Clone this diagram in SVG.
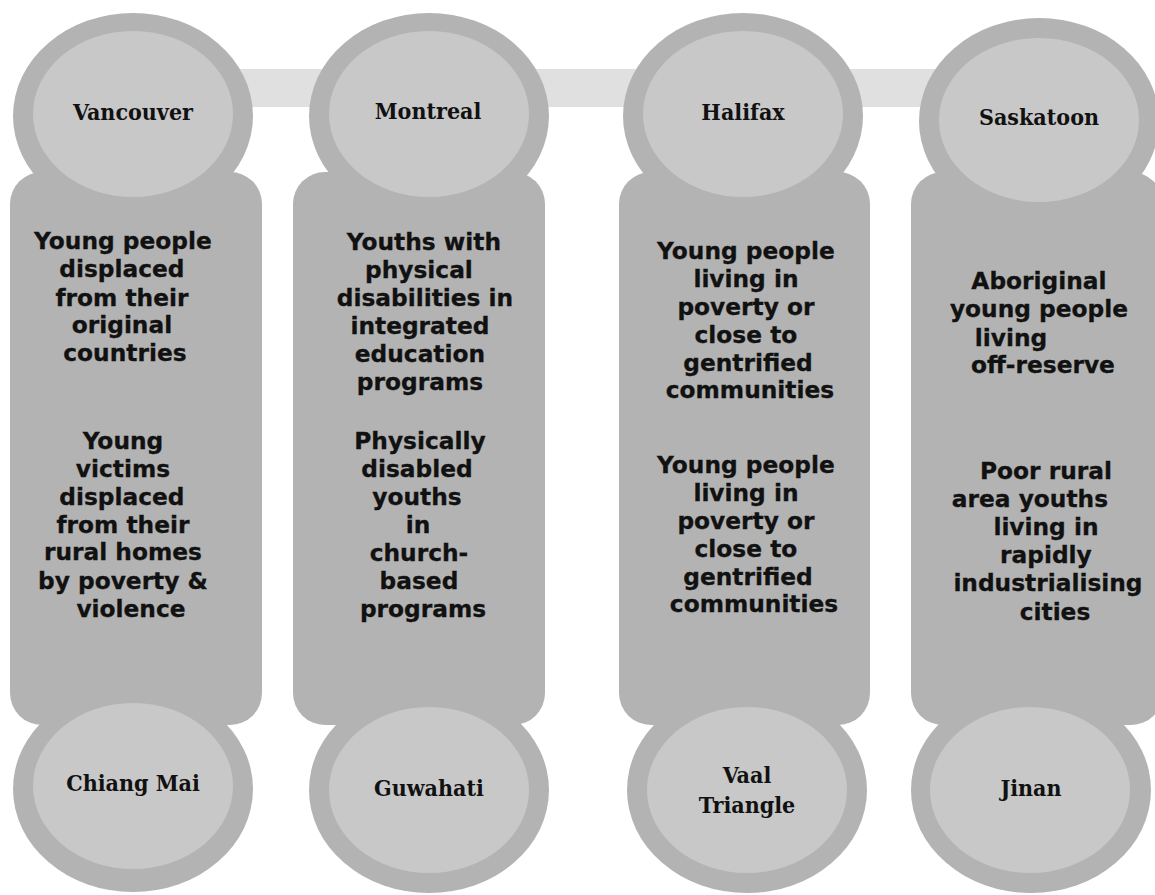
<svg xmlns="http://www.w3.org/2000/svg" width="1155" height="895" viewBox="0 0 1155 895">
  <style>
    .band { fill: #e0e0e0; }
    .ring { fill: #b3b3b3; }
    .body { fill: #b3b3b3; }
    .face { fill: #c8c8c8; }
    .city { font-family: "DejaVu Serif Condensed", "DejaVu Serif", serif; font-stretch: condensed; font-weight: bold; font-size: 23px; fill: #111; text-anchor: middle; }
    .desc { font-family: "DejaVu Sans", Verdana, sans-serif; font-weight: bold; font-size: 23.3px; fill: #111; stroke: #111; stroke-width: 0.3px; text-anchor: middle; }
  </style>
  <rect width="1155" height="895" fill="#ffffff"/>

  <!-- horizontal band linking the top circles -->
  <g id="connectors">
    <rect class="band" x="200" y="69" width="800" height="38"/>
  </g>

  <!-- column 1 -->
  <g id="col-vancouver">
    <ellipse class="ring" cx="133" cy="116" rx="120" ry="103"/>
    <ellipse class="ring" cx="133" cy="789" rx="120" ry="103"/>
    <rect class="body" x="10" y="172" width="252" height="553" rx="32"/>
    <ellipse class="face" cx="133" cy="114" rx="100" ry="83"/>
    <ellipse class="face" cx="133" cy="786" rx="100" ry="83"/>
    <text class="city" x="133" y="120">Vancouver</text>
    <text class="city" x="133" y="791">Chiang Mai</text>
    <text class="desc">
      <tspan x="127" y="249">Young people</tspan>
      <tspan x="126" y="277">displaced</tspan>
      <tspan x="126" y="306">from their</tspan>
      <tspan x="126" y="333">original</tspan>
      <tspan x="129" y="361">countries</tspan>
      <tspan x="127" y="449">Young</tspan>
      <tspan x="127" y="477">victims</tspan>
      <tspan x="126" y="505">displaced</tspan>
      <tspan x="127" y="533">from their</tspan>
      <tspan x="127" y="560">rural homes</tspan>
      <tspan x="127" y="589">by poverty &amp;</tspan>
      <tspan x="131" y="617">violence</tspan>
    </text>
  </g>

  <!-- column 2 -->
  <g id="col-montreal">
    <ellipse class="ring" cx="429" cy="116" rx="120" ry="103"/>
    <ellipse class="ring" cx="429" cy="790" rx="120" ry="103"/>
    <rect class="body" x="293" y="172" width="252" height="553" rx="32"/>
    <ellipse class="face" cx="429" cy="114" rx="100" ry="83"/>
    <ellipse class="face" cx="429" cy="790" rx="100" ry="83"/>
    <text class="city" x="428" y="119">Montreal</text>
    <text class="city" x="429" y="796">Guwahati</text>
    <text class="desc">
      <tspan x="428" y="250">Youths with</tspan>
      <tspan x="423" y="278">physical</tspan>
      <tspan x="429" y="306">disabilities in</tspan>
      <tspan x="424" y="334">integrated</tspan>
      <tspan x="424" y="362">education</tspan>
      <tspan x="424" y="390">programs</tspan>
      <tspan x="424" y="449">Physically</tspan>
      <tspan x="421" y="477">disabled</tspan>
      <tspan x="421" y="505">youths</tspan>
      <tspan x="422" y="533">in</tspan>
      <tspan x="423" y="561">church-</tspan>
      <tspan x="423" y="589">based</tspan>
      <tspan x="423" y="617">programs</tspan>
    </text>
  </g>

  <!-- column 3 -->
  <g id="col-halifax">
    <ellipse class="ring" cx="743" cy="116" rx="120" ry="103"/>
    <ellipse class="ring" cx="747" cy="790" rx="120" ry="103"/>
    <rect class="body" x="619" y="172" width="251" height="553" rx="32"/>
    <ellipse class="face" cx="743" cy="114" rx="100" ry="83"/>
    <ellipse class="face" cx="747" cy="790" rx="100" ry="83"/>
    <text class="city" x="743" y="120">Halifax</text>
    <text class="city" x="747" y="783">Vaal</text>
    <text class="city" x="747" y="813">Triangle</text>
    <text class="desc">
      <tspan x="750" y="259">Young people</tspan>
      <tspan x="750" y="287">living in</tspan>
      <tspan x="750" y="315">poverty or</tspan>
      <tspan x="750" y="343">close to</tspan>
      <tspan x="752" y="371">gentrified</tspan>
      <tspan x="754" y="398">communities</tspan>
      <tspan x="750" y="473">Young people</tspan>
      <tspan x="750" y="501">living in</tspan>
      <tspan x="750" y="529">poverty or</tspan>
      <tspan x="750" y="557">close to</tspan>
      <tspan x="752" y="585">gentrified</tspan>
      <tspan x="754" y="612">communities</tspan>
    </text>
  </g>

  <!-- column 4 -->
  <g id="col-saskatoon">
    <ellipse class="ring" cx="1039" cy="121" rx="120" ry="103"/>
    <ellipse class="ring" cx="1031" cy="790" rx="120" ry="103"/>
    <rect class="body" x="911" y="172" width="252" height="553" rx="32"/>
    <ellipse class="face" cx="1039" cy="120" rx="100" ry="82"/>
    <ellipse class="face" cx="1030" cy="790" rx="100" ry="83"/>
    <text class="city" x="1039" y="125">Saskatoon</text>
    <text class="city" x="1031" y="796">Jinan</text>
    <text class="desc">
      <tspan x="1043" y="289">Aboriginal</tspan>
      <tspan x="1043" y="317">young people</tspan>
      <tspan x="1015" y="346">living</tspan>
      <tspan x="1047" y="373">off-reserve</tspan>
      <tspan x="1050" y="479">Poor rural</tspan>
      <tspan x="1034" y="507">area youths</tspan>
      <tspan x="1050" y="535">living in</tspan>
      <tspan x="1050" y="563">rapidly</tspan>
      <tspan x="1052" y="591">industrialising</tspan>
      <tspan x="1055" y="620">cities</tspan>
    </text>
  </g>
</svg>
